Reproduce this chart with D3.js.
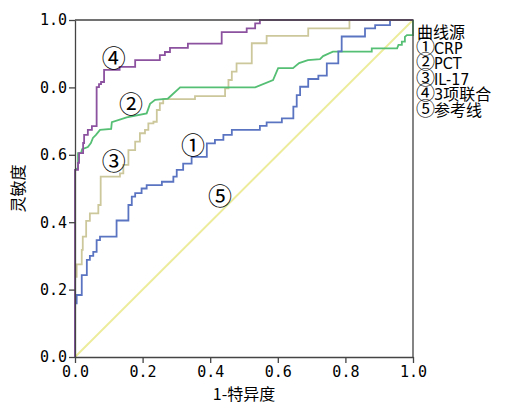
<!DOCTYPE html>
<html>
<head>
<meta charset="utf-8">
<script src="https://cdn.jsdelivr.net/npm/d3@7"></script>
<style>
  body { margin: 0; background: #fff; }
  text { fill: #000; }
</style>
</head>
<body>
<script>
// ROC curves, 1-specificity vs sensitivity
var xTicks = [0, 0.2, 0.4, 0.6, 0.8, 1.0]
var xTickLabels = ["0.0", "0.2", "0.4", "0.6", "0.8", "1.0"]
var yTicks = [0, 0.2, 0.4, 0.6, 0.8, 1.0]
var yTickLabels = ["0.0", "0.2", "0.4", "0.6", "0.0", "1.0"]   // as printed in the source

var legendTitle = "曲线源"
var seriesMarks = ["①", "②", "③", "④", "⑤"]
var seriesNames = ["CRP", "PCT", "IL-17", "3项联合", "参考线"]
var seriesColors = ["#5b74c2", "#55bf74", "#cdc79c", "#8c52a0", "#ecec9a"]

// step curves: each point = (fpr where the step happens, tpr after it)
var crpFpr = [0,0,0.005,0.020,0.035,0.044,0.054,0.064,0.074,0.123,0.158,0.168,0.178,0.197,0.212,0.257,0.291,0.301,0.320,0.345,0.390,0.414,0.439,0.464,0.547,0.567,0.612,0.646,0.656,0.666,0.690,0.720,0.745,0.779,0.789,0.858,0.888,0.932,1]
var crpTpr = [0,0.159,0.184,0.243,0.288,0.300,0.312,0.347,0.357,0.405,0.451,0.476,0.486,0.500,0.510,0.520,0.535,0.555,0.574,0.594,0.634,0.644,0.659,0.674,0.686,0.696,0.708,0.743,0.777,0.802,0.825,0.835,0.871,0.907,0.951,0.975,0.985,1,1]

var il17Fpr = [0,0,0.005,0.020,0.023,0.033,0.044,0.069,0.076,0.133,0.143,0.158,0.178,0.192,0.207,0.217,0.232,0.242,0.251,0.261,0.355,0.444,0.454,0.464,0.478,0.523,0.567,0.690,0.812,1]
var il17Tpr = [0,0.238,0.275,0.318,0.357,0.404,0.426,0.451,0.535,0.545,0.570,0.614,0.639,0.664,0.674,0.693,0.698,0.733,0.753,0.765,0.774,0.797,0.822,0.847,0.871,0.931,0.953,0.975,1,1]

var comboFpr = [0,0,0.009,0.012,0.024,0.027,0.038,0.050,0.064,0.071,0.077,0.086,0.132,0.178,0.251,0.266,0.281,0.334,0.434,0.508,0.533,0.547,1]
var comboTpr = [0,0.555,0.576,0.605,0.635,0.659,0.674,0.685,0.801,0.810,0.816,0.852,0.861,0.881,0.896,0.905,0.917,0.930,0.964,0.975,0.990,1,1]

// PCT has tied values so it is drawn vertex to vertex
var pctFpr = [0,0,0.009,0.009,0.018,0.021,0.038,0.047,0.053,0.062,0.074,0.107,0.109,0.153,0.212,0.222,0.237,0.275,0.311,0.533,0.586,0.601,0.645,0.663,0.689,0.725,0.734,0.763,0.878,0.878,0.953,0.957,0.967,0.967,0.976,0.976,0.982,1,1]
var pctTpr = [0,0.555,0.561,0.605,0.605,0.617,0.623,0.635,0.650,0.659,0.674,0.677,0.697,0.711,0.723,0.751,0.763,0.767,0.800,0.800,0.822,0.857,0.857,0.872,0.881,0.884,0.893,0.906,0.906,0.916,0.916,0.926,0.926,0.936,0.936,0.950,0.955,0.955,1]

var refFpr = [0, 1]
var refTpr = [0, 1]

// curve labels placed in data coords (order ① .. ⑤)
var tagX = [0.349, 0.166, 0.115, 0.115, 0.429]
var tagY = [0.626, 0.748, 0.579, 0.884, 0.475]

var width = 507, height = 404
var pad = {top: 20, left: 75, right: 94, bottom: 47}

var svg = d3.select("body").append("svg")
    .attr("width", width)
    .attr("height", height)

var x = d3.scaleLinear().domain([0, 1]).range([pad.left, width - pad.right])
var y = d3.scaleLinear().domain([0, 1]).range([height - pad.bottom, pad.top])

const zip = function(xs, ys){
  return xs.map(function(v, i){ return [v, ys[i]] })
}

var stepLine = d3.line().x(d => x(d[0])).y(d => y(d[1])).curve(d3.curveStepAfter)
var plainLine = d3.line().x(d => x(d[0])).y(d => y(d[1]))

var curves = [
  {pts: zip(refFpr, refTpr), color: seriesColors[4], gen: plainLine},
  {pts: zip(il17Fpr, il17Tpr), color: seriesColors[2], gen: stepLine},
  {pts: zip(pctFpr, pctTpr), color: seriesColors[1], gen: plainLine},
  {pts: zip(crpFpr, crpTpr), color: seriesColors[0], gen: stepLine},
  {pts: zip(comboFpr, comboTpr), color: seriesColors[3], gen: stepLine}
]

svg.append("g").selectAll("path")
  .data(curves)
  .enter().append("path")
  .attr("d", d => d.gen(d.pts))
  .attr("fill", "none")
  .attr("stroke", d => d.color)
  .attr("stroke-width", 1.8)

// frame: top and right border
svg.append("path")
  .attr("d", "M" + x(0) + "," + y(1) + "H" + x(1) + "V" + y(0))
  .attr("fill", "none")
  .attr("stroke", "#444")
  .attr("stroke-width", 1.3)

var tickFont = "'DejaVu Sans Mono', monospace"

var xAxis = svg.append("g")
  .attr("transform", "translate(0," + y(0) + ")")
  .call(d3.axisBottom(x).tickValues(xTicks).tickSize(6).tickSizeOuter(0)
        .tickFormat((d, i) => xTickLabels[i]))
var yAxis = svg.append("g")
  .attr("transform", "translate(" + x(0) + ",0)")
  .call(d3.axisLeft(y).tickValues(yTicks).tickSize(6).tickSizeOuter(0)
        .tickFormat((d, i) => yTickLabels[i]))

;[xAxis, yAxis].forEach(function(ax){
  ax.selectAll("path, line").attr("stroke", "#444").attr("stroke-width", 1.3)
  ax.selectAll("text")
    .attr("fill", "#000")
    .style("font-family", tickFont)
    .style("font-size", "15px")
})
xAxis.selectAll("text").attr("dy", "1.0em").attr("y", 5)
yAxis.selectAll("text").attr("x", -8)

var cjk = "'Noto Sans CJK SC', 'Noto Sans', sans-serif"
var narrow = "'DejaVu Sans Condensed', 'Noto Sans CJK SC', sans-serif"

svg.append("text")
  .attr("x", (x(0) + x(1)) / 2)
  .attr("y", 400)
  .attr("text-anchor", "middle")
  .style("font-family", cjk)
  .style("font-size", "16px")
  .text("1-特异度")

svg.append("text")
  .attr("transform", "translate(24," + ((y(0) + y(1)) / 2) + ") rotate(-90)")
  .attr("text-anchor", "middle")
  .style("font-family", cjk)
  .style("font-size", "16px")
  .text("灵敏度")

// circled numbers on the curves; the CJK circled glyphs run small so bump the size
svg.append("g").selectAll("text")
  .data(seriesMarks)
  .enter().append("text")
  .attr("x", (d, i) => x(tagX[i]))
  .attr("y", (d, i) => y(tagY[i]))
  .attr("dy", "0.32em")
  .attr("text-anchor", "middle")
  .style("font-family", cjk)
  .style("font-size", "24px")
  .text(d => d)

// legend block on the right
var legend = svg.append("g")
  .attr("transform", "translate(417,0)")
  .style("font-family", narrow)
  .style("font-size", "16px")

legend.append("text")
  .attr("x", 0)
  .attr("y", 38)
  .style("font-family", cjk)
  .style("font-size", "16px")
  .text(legendTitle)

var rows = legend.selectAll("text.row")
  .data(seriesNames)
  .enter().append("text")
  .attr("class", "row")
  .attr("x", -1)
  .attr("y", (d, i) => 53.5 + i * 15.5)

rows.append("tspan")
  .style("font-family", cjk)
  .style("font-size", "19px")
  .text((d, i) => seriesMarks[i])
rows.append("tspan")
  .attr("dx", -1)
  .text(d => d)
</script>
</body>
</html>
